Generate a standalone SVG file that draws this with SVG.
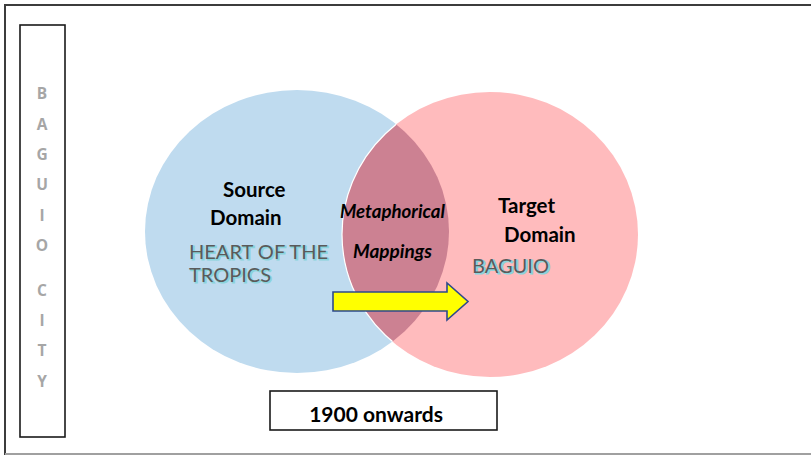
<svg xmlns="http://www.w3.org/2000/svg" width="811" height="456" viewBox="0 0 811 456">
  <style>
    .lbl { font-family: Lato, "Open Sans", sans-serif; font-weight: bold; fill: #000; }
    .ital { font-family: Lato, "Open Sans", sans-serif; font-weight: bold; font-style: italic; fill: #000; font-size: 18px; }
    .name { font-family: Lato, "Open Sans", sans-serif; font-size: 19px; }
    .name-shade { fill: #8ad4dc; stroke: #8ad4dc; stroke-width: 1.2; }
    .name-face { fill: #5a5a5a; }
    .side { font-family: "Open Sans", Lato, sans-serif; font-weight: bold; font-size: 15.5px; fill: #a6a6a6; text-anchor: middle; }
  </style>
  <defs>
    <clipPath id="blueClip">
      <ellipse cx="297" cy="231.5" rx="152" ry="141.5"/>
    </clipPath>
  </defs>

  <rect width="811" height="456" fill="#fff"/>

  <!-- page frame -->
  <g id="frame">
    <path d="M5,455 V5 H811" fill="none" stroke="#3c3c3c" stroke-width="2"/>
    <line x1="5" y1="454" x2="811" y2="454" stroke="#a0a0a0" stroke-width="2"/>
  </g>

  <!-- vertical city label -->
  <g id="city-label">
    <rect x="20" y="25" width="45" height="412" fill="none" stroke="#1a1a1a" stroke-width="1.6"/>
    <text class="side" x="42" y="99">B</text>
    <text class="side" x="42" y="130">A</text>
    <text class="side" x="42" y="160">G</text>
    <text class="side" x="42" y="190">U</text>
    <text class="side" x="42" y="221">I</text>
    <text class="side" x="42" y="251">O</text>
    <text class="side" x="42" y="296">C</text>
    <text class="side" x="42" y="326">I</text>
    <text class="side" x="42" y="356">T</text>
    <text class="side" x="42" y="387">Y</text>
  </g>

  <!-- source domain -->
  <g id="source-domain">
    <ellipse cx="297" cy="231.5" rx="152" ry="141.5" fill="#bfdbef"/>
  </g>

  <!-- target domain -->
  <g id="target-domain">
    <ellipse cx="490" cy="234.5" rx="148" ry="142.5" fill="#ffbbbd"/>
  </g>

  <!-- overlap of the two domains -->
  <g id="overlap">
    <ellipse cx="490" cy="234.5" rx="148" ry="142.5" fill="#cc8192" clip-path="url(#blueClip)"/>
    <ellipse cx="490" cy="234.5" rx="148" ry="142.5" fill="none" stroke="#fff" stroke-width="1.2" clip-path="url(#blueClip)"/>
  </g>

  <!-- labels -->
  <g id="source-text">
    <text class="lbl" x="223" y="197" font-size="20.5">Source</text>
    <text class="lbl" x="210" y="225" font-size="20.5">Domain</text>
    <text class="name name-shade" x="190.2" y="260.2" textLength="139" lengthAdjust="spacingAndGlyphs">HEART OF THE</text>
    <text class="name name-face" x="189" y="259" textLength="139" lengthAdjust="spacingAndGlyphs">HEART OF THE</text>
    <text class="name name-shade" x="190.2" y="283.2" textLength="82" lengthAdjust="spacingAndGlyphs">TROPICS</text>
    <text class="name name-face" x="189" y="282" textLength="82" lengthAdjust="spacingAndGlyphs">TROPICS</text>
  </g>

  <g id="mapping-text">
    <text class="ital" x="340" y="218" textLength="105" lengthAdjust="spacingAndGlyphs">Metaphorical</text>
    <text class="ital" x="353" y="258" textLength="79" lengthAdjust="spacingAndGlyphs">Mappings</text>
  </g>

  <g id="target-text">
    <text class="lbl" x="498" y="213" font-size="20.5">Target</text>
    <text class="lbl" x="504" y="242" font-size="20.5">Domain</text>
    <text class="name name-shade" x="473.2" y="274.2" textLength="77" lengthAdjust="spacingAndGlyphs">BAGUIO</text>
    <text class="name name-face" x="472" y="273" textLength="77" lengthAdjust="spacingAndGlyphs">BAGUIO</text>
  </g>

  <!-- mapping arrow -->
  <g id="connectors">
    <path d="M333,292 H447 V283 L468,301.5 L447,320 V311 H333 Z" fill="#ffff00" stroke="#2e4a8c" stroke-width="1.6" stroke-linejoin="miter"/>
  </g>

  <!-- period box -->
  <g id="period">
    <rect x="270" y="391" width="227" height="39" fill="#fff" stroke="#1a1a1a" stroke-width="1.6"/>
    <text class="lbl" x="376" y="422" font-size="21" text-anchor="middle">1900 onwards</text>
  </g>
</svg>
